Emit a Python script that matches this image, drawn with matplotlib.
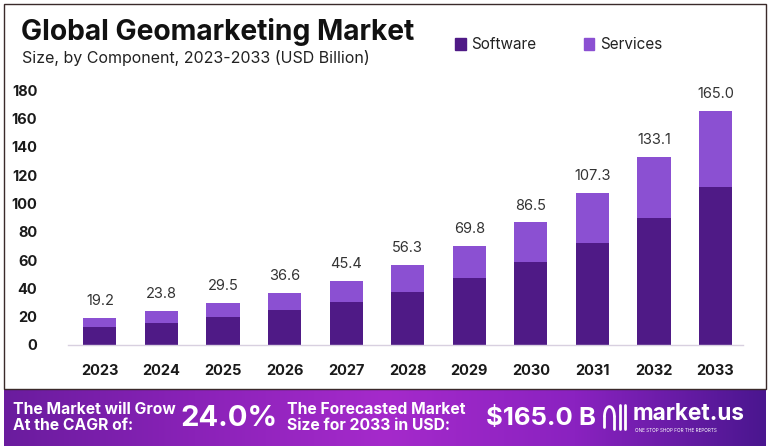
import matplotlib.pyplot as plt
import matplotlib.patches as mpatches
from matplotlib.colors import LinearSegmentedColormap
import numpy as np

years = ['2023', '2024', '2025', '2026', '2027', '2028', '2029', '2030', '2031', '2032', '2033']
totals = [19.2, 23.8, 29.5, 36.6, 45.4, 56.3, 69.8, 86.5, 107.3, 133.1, 165.0]
software = [13.0, 15.8, 20.1, 24.4, 30.7, 37.6, 47.4, 58.5, 72.2, 89.7, 111.3]
services = [round(t - s, 1) for t, s in zip(totals, software)]
yticks = [0, 20, 40, 60, 80, 100, 120, 140, 160, 180]

c_soft = '#4f1a86'
c_serv = '#8b50d2'

plt.rcParams['font.family'] = ['Inter', 'DejaVu Sans']

fig = plt.figure(figsize=(7.71, 4.46), dpi=100)
fig.patch.set_facecolor('white')

# outer frame of the white card
frame = mpatches.Rectangle((0.005, 0.128), 0.988, 0.863, transform=fig.transFigure,
                           fill=False, edgecolor='#3a2a2a', linewidth=1.0)
fig.add_artist(frame)

ax = fig.add_axes([0.088, 0.2265, 0.876, 0.5715])
x = np.arange(len(years))
ax.bar(x, software, width=0.54, color=c_soft, zorder=2)
ax.bar(x, services, width=0.54, bottom=software, color=c_serv, zorder=2)

for xi, t in zip(x, totals):
    ax.text(xi, t + 7, f'{t:.1f}', ha='center', va='bottom', fontsize=10.5, color='#333333')

ax.set_xlim(-0.52, 10.45)
ax.set_ylim(0, 180)
ax.set_xticks(x)
ax.set_xticklabels(years, fontsize=10.5, fontweight='bold', color='#1a1a1a')
ax.set_yticks(yticks)
ax.set_yticklabels([str(v) for v in yticks], fontsize=10.5, fontweight='bold', color='#1a1a1a')
ax.tick_params(axis='both', length=0)
ax.tick_params(axis='x', pad=14)
ax.tick_params(axis='y', pad=22)
for sp in ['top', 'right', 'left']:
    ax.spines[sp].set_visible(False)
ax.spines['bottom'].set_color('#d8d0e0')
ax.spines['bottom'].set_linewidth(1.0)

# title + subtitle
fig.text(0.027, 0.928, 'Global Geomarketing Market', fontsize=20.3, fontweight='bold', color='#111111', va='center')
fig.text(0.028, 0.870, 'Size, by Component, 2023-2033 (USD Billion)', fontsize=11.5, color='#222222', va='center')

# legend
fig.add_artist(mpatches.Rectangle((0.590, 0.888), 0.014, 0.026, transform=fig.transFigure, color=c_soft))
fig.text(0.611, 0.901, 'Software', fontsize=11, color='#222222', va='center')
fig.add_artist(mpatches.Rectangle((0.757, 0.888), 0.014, 0.026, transform=fig.transFigure, color=c_serv))
fig.text(0.778, 0.901, 'Services', fontsize=11, color='#222222', va='center')

# bottom banner with gradient
bax = fig.add_axes([0.005, 0.0, 0.988, 0.128])
grad = np.linspace(0, 1, 256)
cmap = LinearSegmentedColormap.from_list('ban', ['#6a1c9e', '#8a22b8', '#a52acb', '#8a22c0', '#4a168f'])
bax.imshow(grad[np.newaxis, :], aspect='auto', cmap=cmap, extent=[0, 1, 0, 1])
bax.set_xlim(0, 1)
bax.set_ylim(0, 1)
bax.axis('off')

bax.text(0.012, 0.5, 'The Market will Grow\nAt the CAGR of:', fontsize=11.3, fontweight='bold',
         color='white', va='center', ha='left', linespacing=1.15)
bax.text(0.232, 0.48, '24.0%', fontsize=21, fontweight='bold', color='white', va='center', ha='left')
bax.text(0.372, 0.5, 'The Forecasted Market\nSize for 2033 in USD:', fontsize=11.3, fontweight='bold',
         color='white', va='center', ha='left', linespacing=1.15)
bax.text(0.633, 0.48, '$165.0 B', fontsize=18.5, fontweight='bold', color='white', va='center', ha='left')
bax.text(0.826, 0.56, 'market.us', fontsize=16.3, fontweight='bold', color='white', va='center', ha='left')
bax.text(0.829, 0.27, 'ONE STOP SHOP FOR THE REPORTS', fontsize=3.4, color='white', va='center', ha='left')

# small logo mark drawn as strokes
t = np.linspace(0, np.pi, 30)
lx = 0.795
bax.plot(lx + 0.0065 * np.cos(t), 0.52 + 0.17 * np.sin(t), color='white', lw=2.0, solid_capstyle='round')
bax.plot([lx - 0.0065, lx - 0.0065], [0.52, 0.34], color='white', lw=2.0, solid_capstyle='round')
bax.plot([lx + 0.0065, lx + 0.0065], [0.52, 0.30], color='white', lw=2.0, solid_capstyle='round')
bax.plot([lx + 0.0145, lx + 0.0145], [0.72, 0.30], color='white', lw=2.0, solid_capstyle='round')
bax.plot([lx + 0.021, lx + 0.021], [0.72, 0.30], color='white', lw=2.0, solid_capstyle='round')

fig.savefig('out.png', dpi=100)
